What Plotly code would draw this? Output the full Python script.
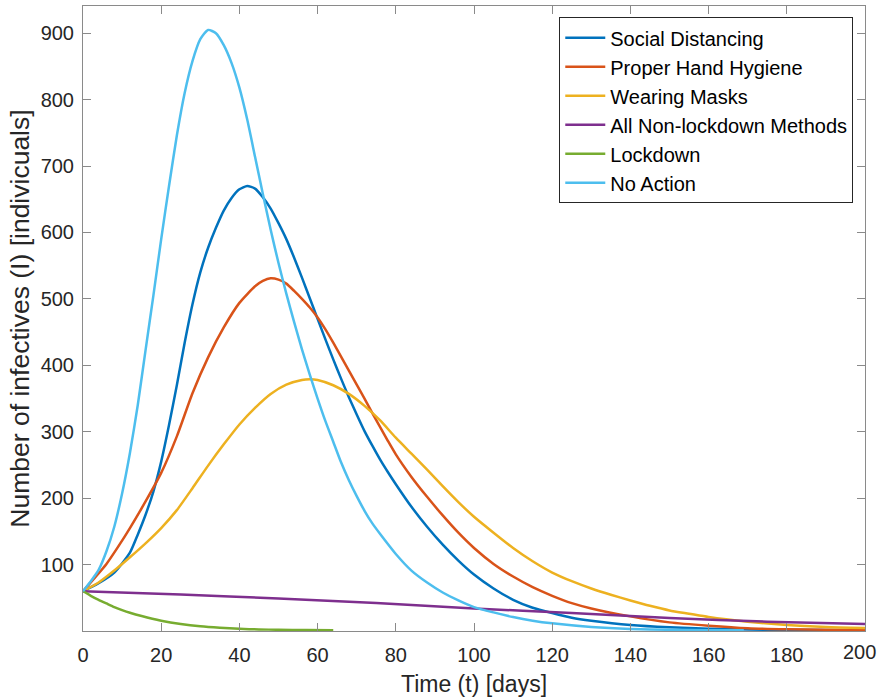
import plotly.graph_objects as go

# ---- data ----
names = ["Social Distancing", "Proper Hand Hygiene", "Wearing Masks",
         "All Non-lockdown Methods", "Lockdown", "No Action"]
colors = ["#0072BD", "#D95319", "#EDB120", "#7E2F8E", "#77AC30", "#4DBEEE"]

t_social = [0, 4, 8, 12, 14, 16, 18, 20, 22, 24, 26, 28, 30, 32, 34, 36, 38, 40, 42, 44, 46,
            48, 50, 52, 54, 56, 58, 60, 62, 64, 66, 68, 70, 72, 74, 76, 78, 80, 84, 88, 92,
            96, 100, 105, 110, 115, 120, 125, 130, 140, 150, 160, 170, 180, 196]
v_social = [60, 72, 88, 118, 145, 175, 210, 255, 310, 370, 434, 492, 540, 577, 607, 633, 652, 665, 670, 666, 653,
            636, 614, 590, 562, 532, 501, 470, 439, 409, 380, 352, 326, 301, 279, 258, 239, 221, 187, 157, 130,
            106, 85, 64, 47, 35, 27, 20, 15.5, 9, 5.5, 3.5, 2.3, 1.7, 1.3]

t_hand = [0, 3, 6, 9, 12, 16, 20, 24, 28, 32, 36, 40, 44, 46, 48, 50, 52, 54, 56, 58, 60, 62, 64,
          66, 68, 70, 72, 74, 76, 78, 80, 84, 88, 92, 96, 100, 105, 110, 115, 120, 125, 130, 140,
          150, 160, 170, 180, 190, 200]
v_hand = [60, 80, 101, 127, 155, 195, 238, 293, 358, 412, 457, 494, 519, 527, 531, 529, 523, 512, 500, 487, 472, 454, 434,
          413, 392, 371, 350, 328, 307, 286, 266, 232, 202, 174, 148, 125, 101, 82, 66, 53, 42, 34, 22,
          13, 8, 4.2, 2.6, 1.9, 1.5]

t_masks = [0, 4, 8, 12, 16, 20, 24, 28, 32, 36, 40, 44, 48, 52, 56, 58, 60, 64, 68, 72, 76, 80, 84,
           88, 92, 96, 100, 105, 110, 115, 120, 125, 130, 135, 140, 145, 150, 155, 160, 170, 180, 190, 200]
v_masks = [60, 73, 91, 111, 132, 155, 182, 215, 249, 281, 311, 336, 357, 371, 378, 379, 378, 370, 357, 339, 317, 291, 267,
           243, 218, 194, 172, 148, 125, 105, 88, 75, 64, 54.5, 46, 38, 31, 26, 21, 14, 9, 6, 4.5]

t_allnl = [0, 25, 50, 75, 100, 125, 150, 175, 200]
v_allnl = [60, 55, 49, 42, 34, 27, 19.5, 14, 10.5]

t_lock = [0, 2, 4, 6, 8, 10, 12, 15, 20, 25, 30, 35, 40, 45, 50, 57, 64]
v_lock = [60, 53, 47, 41.5, 36, 31.5, 27.5, 22.5, 15.5, 10.5, 7, 4.8, 3.3, 2.4, 1.8, 1.4, 1.2]

t_none = [0, 2, 4, 6, 8, 10, 12, 14, 16, 18, 20, 22, 24, 26, 28, 30, 32, 34, 36, 38, 40, 42, 44,
          46, 48, 50, 52, 54, 56, 58, 60, 62, 64, 66, 68, 70, 72, 74, 76, 80, 84, 88, 92, 96, 100,
          105, 110, 115, 120, 130, 140, 150, 160, 169]
v_none = [60, 75, 92, 120, 157, 207, 268, 340, 423, 505, 590, 670, 746, 810, 858, 891, 905, 900, 882, 855, 818, 770, 714,
          658, 604, 554, 508, 465, 424, 386, 350, 316, 285, 254, 227, 203, 181, 162, 146, 116, 91, 73, 58, 46, 36,
          28, 21, 15.5, 11.5, 6, 3, 1.8, 1.3, 1.2]

x_ticks = list(range(0, 201, 20))
x_last_label = "200"
x_ticktext = [str(v) for v in x_ticks[:-1]] + [""]
y_ticks = list(range(100, 901, 100))

series = [(t_social, v_social), (t_hand, v_hand), (t_masks, v_masks),
          (t_allnl, v_allnl), (t_lock, v_lock), (t_none, v_none)]

FONT = "Liberation Sans, Arial, sans-serif"
AX = "#8a8a8a"
TICKFONT = dict(family=FONT, size=20, color="#262626")

fig = go.Figure()
for (tx, vy), nm, c in zip(series, names, colors):
    fig.add_trace(go.Scatter(x=tx, y=vy, name=nm, mode="lines",
                             line=dict(color=c, width=2.5, shape="spline", smoothing=0.6)))

axis_common = dict(showline=True, mirror="ticks", linecolor=AX, linewidth=1,
                   ticks="inside", ticklen=8, tickcolor=AX, tickwidth=1,
                   showgrid=False, zeroline=False,
                   automargin=False, tickfont=TICKFONT)

fig.update_xaxes(range=[0, 200], tickvals=x_ticks, ticktext=x_ticktext,
                 title=dict(text="Time (t) [days]", font=dict(family=FONT, size=23, color="#262626"),
                            standoff=10),
                 ticklabelstandoff=6, **axis_common)
fig.update_yaxes(range=[0, 941], tickvals=y_ticks,
                 title=dict(text="Number of infectives (I) [indivicuals]",
                            font=dict(family=FONT, size=26.5, color="#262626"), standoff=3),
                 ticklabelstandoff=4, **axis_common)

# last x tick label placed as annotation so it stays inside the page
fig.add_annotation(x=x_ticks[-1], xref="x", y=0, yref="paper", text=x_last_label,
                   showarrow=False, xanchor="right", yanchor="top", xshift=12, yshift=-9,
                   font=TICKFONT, borderpad=0)

fig.update_layout(
    width=880, height=698,
    margin=dict(l=83, r=15, t=6, b=67),
    paper_bgcolor="white", plot_bgcolor="white",
    font=dict(family=FONT, color="#000000"),
    legend=dict(x=0.985, y=0.982, xanchor="right", yanchor="top",
                bgcolor="white", bordercolor="#262626", borderwidth=1,
                font=dict(family=FONT, size=20, color="#000000"),
                tracegroupgap=0, itemwidth=40),
    showlegend=True,
)

fig.write_html("out.html")
